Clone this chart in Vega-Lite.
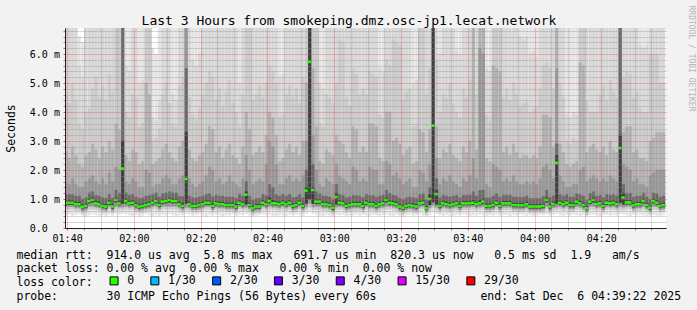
{
"$schema": "https://vega.github.io/schema/vega-lite/v6.json",
"width": 601, "height": 200,
"autosize": {"type": "none"},
"padding": {"left": 65, "top": 28, "right": 31, "bottom": 82},
"background": "#f2f2f2",
"config": {"font": "DejaVu Sans Mono", "view": {"stroke": null, "fill": "#ffffff"}},
"datasets": {"loss": [{"loss": "0"}, {"loss": "1/30"}, {"loss": "2/30"}, {"loss": "3/30"}, {"loss": "4/30"}, {"loss": "15/30"}, {"loss": "29/30"}], "one": [{"k": 1}]},
"data": {"values": [
{"t":"2025-12-06T01:39Z","m":0.87,"a":0.45,"c":0.65,"e":0.74,"g":0.81,"G":0.94,"F":1.15,"E":1.6,"D":2.6,"C":4.6,"B":9,"A":9},
{"t":"2025-12-06T01:40Z","m":0.87,"a":0.48,"c":0.65,"e":0.74,"g":0.81,"G":0.94,"F":1.15,"E":1.5,"D":2.4,"C":4.3,"B":9,"A":9},
{"t":"2025-12-06T01:41Z","m":0.87,"a":0.42,"c":0.65,"e":0.74,"g":0.81,"G":0.94,"F":1.15,"E":1.7,"D":2.8,"C":5.0,"B":9,"A":9},
{"t":"2025-12-06T01:42Z","m":0.82,"a":0.46,"c":0.6,"e":0.69,"g":0.76,"G":0.89,"F":1.1,"E":1.5,"D":2.5,"C":4.4,"B":9,"A":9},
{"t":"2025-12-06T01:43Z","m":0.82,"a":0.5,"c":0.6,"e":0.69,"g":0.76,"G":0.89,"F":1.1,"E":1.4,"D":2.2,"C":3.6,"B":5.6,"A":6.6},
{"t":"2025-12-06T01:44Z","m":0.72,"a":0.44,"c":0.5,"e":0.59,"g":0.66,"G":0.79,"F":1.0,"E":1.4,"D":2.1,"C":3.4,"B":5.2,"A":6.4},
{"t":"2025-12-06T01:45Z","m":0.76,"a":0.4,"c":0.54,"e":0.63,"g":0.7,"G":0.83,"F":1.04,"E":1.6,"D":2.5,"C":4.0,"B":9,"A":9},
{"t":"2025-12-06T01:46Z","m":0.93,"a":0.45,"c":0.65,"e":0.75,"g":0.86,"G":1.0,"F":1.21,"E":1.7,"D":2.6,"C":4.1,"B":9,"A":9},
{"t":"2025-12-06T01:47Z","m":0.97,"a":0.5,"c":0.65,"e":0.75,"g":0.89,"G":1.04,"F":1.25,"E":1.8,"D":2.9,"C":4.8,"B":9,"A":9},
{"t":"2025-12-06T01:48Z","m":0.85,"a":0.46,"c":0.63,"e":0.72,"g":0.79,"G":0.92,"F":1.13,"E":1.6,"D":2.7,"C":5.2,"B":9,"A":9},
{"t":"2025-12-06T01:49Z","m":0.82,"a":0.42,"c":0.6,"e":0.69,"g":0.76,"G":0.89,"F":1.1,"E":1.5,"D":2.4,"C":4.5,"B":9,"A":9},
{"t":"2025-12-06T01:50Z","m":0.76,"a":0.45,"c":0.54,"e":0.63,"g":0.7,"G":0.83,"F":1.04,"E":1.7,"D":2.8,"C":4.9,"B":9,"A":9},
{"t":"2025-12-06T01:51Z","m":0.74,"a":0.4,"c":0.52,"e":0.61,"g":0.68,"G":0.81,"F":1.02,"E":1.5,"D":2.6,"C":4.4,"B":9,"A":9},
{"t":"2025-12-06T01:52Z","m":0.87,"a":0.48,"c":0.65,"e":0.74,"g":0.81,"G":0.94,"F":1.15,"E":1.9,"D":3.0,"C":5.3,"B":9,"A":9},
{"t":"2025-12-06T01:53Z","m":0.74,"a":0.44,"c":0.52,"e":0.61,"g":0.68,"G":0.81,"F":1.02,"E":1.6,"D":2.7,"C":4.7,"B":9,"A":9},
{"t":"2025-12-06T01:54Z","m":0.97,"a":0.5,"c":0.65,"e":0.75,"g":0.89,"G":1.04,"F":1.3,"E":2.1,"D":3.6,"C":9,"B":9,"A":9},
{"t":"2025-12-06T01:55Z","m":0.85,"a":0.47,"c":0.63,"e":0.72,"g":0.79,"G":0.92,"F":1.2,"E":2.0,"D":3.4,"C":9,"B":9,"A":9},
{"t":"2025-12-06T01:56Z","m":2.05,"a":0.5,"c":0.62,"e":0.72,"g":0.85,"G":3.0,"F":9,"E":9,"D":9,"C":9,"B":9,"A":9},
{"t":"2025-12-06T01:57Z","m":0.93,"a":0.48,"c":0.65,"e":0.75,"g":0.86,"G":1.0,"F":1.21,"E":1.6,"D":2.5,"C":4.0,"B":5.6,"A":9},
{"t":"2025-12-06T01:58Z","m":0.85,"a":0.45,"c":0.63,"e":0.72,"g":0.79,"G":0.92,"F":1.13,"E":1.5,"D":2.3,"C":3.8,"B":5.4,"A":9},
{"t":"2025-12-06T01:59Z","m":0.87,"a":0.42,"c":0.65,"e":0.74,"g":0.81,"G":0.94,"F":1.15,"E":1.7,"D":2.7,"C":4.6,"B":9,"A":9},
{"t":"2025-12-06T02:00Z","m":0.79,"a":0.46,"c":0.57,"e":0.66,"g":0.73,"G":0.86,"F":1.07,"E":1.6,"D":2.6,"C":4.5,"B":9,"A":9},
{"t":"2025-12-06T02:01Z","m":0.74,"a":0.4,"c":0.52,"e":0.61,"g":0.68,"G":0.81,"F":1.02,"E":1.4,"D":2.2,"C":3.5,"B":5.0,"A":9},
{"t":"2025-12-06T02:02Z","m":0.76,"a":0.44,"c":0.54,"e":0.63,"g":0.7,"G":0.83,"F":1.04,"E":1.4,"D":2.3,"C":3.6,"B":5.1,"A":9},
{"t":"2025-12-06T02:03Z","m":0.79,"a":0.48,"c":0.57,"e":0.66,"g":0.73,"G":0.86,"F":1.1,"E":2.0,"D":5.0,"C":9,"B":9,"A":9},
{"t":"2025-12-06T02:04Z","m":0.82,"a":0.45,"c":0.6,"e":0.69,"g":0.76,"G":0.89,"F":1.12,"E":1.9,"D":4.6,"C":9,"B":9,"A":9},
{"t":"2025-12-06T02:05Z","m":0.87,"a":0.42,"c":0.65,"e":0.74,"g":0.81,"G":0.94,"F":1.15,"E":1.4,"D":2.2,"C":3.0,"B":3.8,"A":6.2},
{"t":"2025-12-06T02:06Z","m":0.93,"a":0.46,"c":0.65,"e":0.75,"g":0.86,"G":1.0,"F":1.21,"E":1.5,"D":2.3,"C":3.1,"B":3.7,"A":6.0},
{"t":"2025-12-06T02:07Z","m":0.79,"a":0.4,"c":0.57,"e":0.66,"g":0.73,"G":0.86,"F":1.07,"E":1.5,"D":2.4,"C":3.4,"B":4.4,"A":9},
{"t":"2025-12-06T02:08Z","m":0.91,"a":0.47,"c":0.65,"e":0.75,"g":0.84,"G":0.98,"F":1.19,"E":1.7,"D":2.7,"C":4.6,"B":9,"A":9},
{"t":"2025-12-06T02:09Z","m":0.93,"a":0.44,"c":0.65,"e":0.75,"g":0.86,"G":1.0,"F":1.21,"E":1.8,"D":2.9,"C":5.0,"B":9,"A":9},
{"t":"2025-12-06T02:10Z","m":0.97,"a":0.5,"c":0.65,"e":0.75,"g":0.89,"G":1.04,"F":1.25,"E":1.7,"D":2.6,"C":4.3,"B":9,"A":9},
{"t":"2025-12-06T02:11Z","m":0.93,"a":0.45,"c":0.65,"e":0.75,"g":0.86,"G":1.0,"F":1.21,"E":1.5,"D":2.4,"C":3.6,"B":4.6,"A":9},
{"t":"2025-12-06T02:12Z","m":0.93,"a":0.42,"c":0.65,"e":0.75,"g":0.86,"G":1.0,"F":1.21,"E":1.5,"D":2.3,"C":3.5,"B":4.4,"A":9},
{"t":"2025-12-06T02:13Z","m":0.82,"a":0.46,"c":0.6,"e":0.69,"g":0.76,"G":0.89,"F":1.1,"E":1.7,"D":2.8,"C":4.9,"B":9,"A":9},
{"t":"2025-12-06T02:14Z","m":0.76,"a":0.44,"c":0.54,"e":0.63,"g":0.7,"G":0.85,"F":1.08,"E":1.8,"D":3.0,"C":5.2,"B":9,"A":9},
{"t":"2025-12-06T02:15Z","m":1.69,"a":0.5,"c":0.62,"e":0.72,"g":0.85,"G":3.3,"F":5.5,"E":9,"D":9,"C":9,"B":9,"A":9},
{"t":"2025-12-06T02:16Z","m":0.82,"a":0.47,"c":0.6,"e":0.69,"g":0.76,"G":0.89,"F":1.1,"E":1.7,"D":2.7,"C":4.5,"B":9,"A":9},
{"t":"2025-12-06T02:17Z","m":0.76,"a":0.42,"c":0.54,"e":0.63,"g":0.7,"G":0.83,"F":1.04,"E":1.5,"D":2.4,"C":3.9,"B":5.8,"A":9},
{"t":"2025-12-06T02:18Z","m":0.76,"a":0.45,"c":0.54,"e":0.63,"g":0.7,"G":0.83,"F":1.04,"E":1.4,"D":2.3,"C":3.7,"B":5.6,"A":9},
{"t":"2025-12-06T02:19Z","m":0.79,"a":0.48,"c":0.57,"e":0.66,"g":0.73,"G":0.86,"F":1.07,"E":1.5,"D":2.5,"C":4.1,"B":6.0,"A":9},
{"t":"2025-12-06T02:20Z","m":0.82,"a":0.44,"c":0.6,"e":0.69,"g":0.76,"G":0.89,"F":1.1,"E":1.6,"D":2.6,"C":4.6,"B":9,"A":9},
{"t":"2025-12-06T02:21Z","m":0.87,"a":0.4,"c":0.65,"e":0.74,"g":0.81,"G":0.94,"F":1.15,"E":1.8,"D":2.9,"C":5.0,"B":9,"A":9},
{"t":"2025-12-06T02:22Z","m":0.87,"a":0.46,"c":0.65,"e":0.74,"g":0.81,"G":0.94,"F":1.18,"E":2.1,"D":3.5,"C":5.4,"B":9,"A":9},
{"t":"2025-12-06T02:23Z","m":0.76,"a":0.43,"c":0.54,"e":0.63,"g":0.7,"G":0.83,"F":1.08,"E":2.0,"D":3.4,"C":5.2,"B":9,"A":9},
{"t":"2025-12-06T02:24Z","m":0.85,"a":0.48,"c":0.63,"e":0.72,"g":0.79,"G":0.92,"F":1.13,"E":1.6,"D":2.6,"C":4.4,"B":9,"A":9},
{"t":"2025-12-06T02:25Z","m":0.82,"a":0.45,"c":0.6,"e":0.69,"g":0.76,"G":0.89,"F":1.1,"E":1.7,"D":2.8,"C":4.8,"B":9,"A":9},
{"t":"2025-12-06T02:26Z","m":0.82,"a":0.41,"c":0.6,"e":0.69,"g":0.76,"G":0.89,"F":1.1,"E":1.5,"D":2.4,"C":4.2,"B":9,"A":9},
{"t":"2025-12-06T02:27Z","m":0.79,"a":0.46,"c":0.57,"e":0.66,"g":0.73,"G":0.86,"F":1.07,"E":1.6,"D":2.7,"C":4.7,"B":9,"A":9},
{"t":"2025-12-06T02:28Z","m":0.79,"a":0.44,"c":0.57,"e":0.66,"g":0.73,"G":0.86,"F":1.07,"E":1.8,"D":2.9,"C":5.1,"B":9,"A":9},
{"t":"2025-12-06T02:29Z","m":0.79,"a":0.48,"c":0.57,"e":0.66,"g":0.73,"G":0.86,"F":1.07,"E":1.6,"D":2.5,"C":4.3,"B":9,"A":9},
{"t":"2025-12-06T02:30Z","m":0.74,"a":0.42,"c":0.52,"e":0.61,"g":0.68,"G":0.81,"F":1.02,"E":1.5,"D":2.4,"C":4.0,"B":9,"A":9},
{"t":"2025-12-06T02:31Z","m":0.87,"a":0.47,"c":0.65,"e":0.74,"g":0.81,"G":0.94,"F":1.15,"E":1.4,"D":2.2,"C":3.5,"B":5.0,"A":9},
{"t":"2025-12-06T02:32Z","m":0.82,"a":0.45,"c":0.6,"e":0.69,"g":0.76,"G":0.89,"F":1.1,"E":1.7,"D":2.8,"C":4.6,"B":9,"A":9},
{"t":"2025-12-06T02:33Z","m":1.15,"a":0.5,"c":0.62,"e":0.72,"g":0.82,"G":1.25,"F":1.6,"E":2.5,"D":4.0,"C":9,"B":9,"A":9},
{"t":"2025-12-06T02:34Z","m":0.79,"a":0.44,"c":0.57,"e":0.66,"g":0.73,"G":0.86,"F":1.1,"E":2.0,"D":3.4,"C":9,"B":9,"A":9},
{"t":"2025-12-06T02:35Z","m":0.68,"a":0.4,"c":0.46,"e":0.55,"g":0.62,"G":0.75,"F":0.96,"E":1.5,"D":2.5,"C":4.4,"B":9,"A":9},
{"t":"2025-12-06T02:36Z","m":0.74,"a":0.43,"c":0.52,"e":0.61,"g":0.68,"G":0.81,"F":1.02,"E":1.6,"D":2.6,"C":4.6,"B":9,"A":9},
{"t":"2025-12-06T02:37Z","m":0.74,"a":0.46,"c":0.52,"e":0.61,"g":0.68,"G":0.81,"F":1.02,"E":1.7,"D":2.8,"C":4.9,"B":9,"A":9},
{"t":"2025-12-06T02:38Z","m":0.87,"a":0.48,"c":0.65,"e":0.74,"g":0.81,"G":0.94,"F":1.15,"E":1.6,"D":2.6,"C":4.5,"B":9,"A":9},
{"t":"2025-12-06T02:39Z","m":0.82,"a":0.45,"c":0.6,"e":0.69,"g":0.76,"G":0.89,"F":1.12,"E":2.2,"D":3.2,"C":5.0,"B":9,"A":9},
{"t":"2025-12-06T02:40Z","m":0.93,"a":0.47,"c":0.65,"e":0.75,"g":0.86,"G":1.05,"F":1.5,"E":3.0,"D":4.0,"C":5.6,"B":9,"A":9},
{"t":"2025-12-06T02:41Z","m":0.85,"a":0.44,"c":0.63,"e":0.72,"g":0.79,"G":0.95,"F":1.4,"E":2.8,"D":3.8,"C":5.4,"B":9,"A":9},
{"t":"2025-12-06T02:42Z","m":0.85,"a":0.42,"c":0.63,"e":0.72,"g":0.79,"G":0.92,"F":1.15,"E":2.2,"D":3.2,"C":5.0,"B":9,"A":9},
{"t":"2025-12-06T02:43Z","m":0.82,"a":0.46,"c":0.6,"e":0.69,"g":0.76,"G":0.89,"F":1.1,"E":1.5,"D":2.3,"C":3.8,"B":5.2,"A":9},
{"t":"2025-12-06T02:44Z","m":0.87,"a":0.45,"c":0.65,"e":0.74,"g":0.81,"G":0.94,"F":1.15,"E":1.5,"D":2.4,"C":3.9,"B":5.3,"A":9},
{"t":"2025-12-06T02:45Z","m":0.82,"a":0.41,"c":0.6,"e":0.69,"g":0.76,"G":0.89,"F":1.1,"E":1.7,"D":2.7,"C":4.6,"B":9,"A":9},
{"t":"2025-12-06T02:46Z","m":0.87,"a":0.47,"c":0.65,"e":0.74,"g":0.81,"G":0.94,"F":1.15,"E":1.8,"D":2.9,"C":4.9,"B":9,"A":9},
{"t":"2025-12-06T02:47Z","m":0.76,"a":0.44,"c":0.54,"e":0.63,"g":0.7,"G":0.83,"F":1.04,"E":1.6,"D":2.6,"C":4.5,"B":9,"A":9},
{"t":"2025-12-06T02:48Z","m":0.79,"a":0.48,"c":0.57,"e":0.66,"g":0.73,"G":0.86,"F":1.07,"E":1.7,"D":2.8,"C":4.8,"B":9,"A":9},
{"t":"2025-12-06T02:49Z","m":0.87,"a":0.45,"c":0.65,"e":0.74,"g":0.81,"G":0.94,"F":1.15,"E":1.6,"D":2.5,"C":4.3,"B":9,"A":9},
{"t":"2025-12-06T02:50Z","m":0.76,"a":0.42,"c":0.54,"e":0.63,"g":0.7,"G":0.83,"F":1.04,"E":1.8,"D":3.0,"C":5.2,"B":9,"A":9},
{"t":"2025-12-06T02:51Z","m":1.29,"a":0.5,"c":0.63,"e":0.73,"g":0.85,"G":1.4,"F":2.0,"E":3.0,"D":5.0,"C":9,"B":9,"A":9},
{"t":"2025-12-06T02:52Z","m":5.73,"a":0.55,"c":0.7,"e":0.85,"g":1.0,"G":9,"F":9,"E":9,"D":9,"C":9,"B":9,"A":9},
{"t":"2025-12-06T02:53Z","m":1.31,"a":0.5,"c":0.63,"e":0.73,"g":0.85,"G":1.4,"F":2.2,"E":3.2,"D":5.5,"C":9,"B":9,"A":9},
{"t":"2025-12-06T02:54Z","m":0.91,"a":0.46,"c":0.65,"e":0.75,"g":0.84,"G":0.98,"F":1.25,"E":2.0,"D":3.5,"C":9,"B":9,"A":9},
{"t":"2025-12-06T02:55Z","m":0.91,"a":0.44,"c":0.65,"e":0.75,"g":0.84,"G":0.98,"F":1.19,"E":1.5,"D":2.3,"C":3.6,"B":5.0,"A":9},
{"t":"2025-12-06T02:56Z","m":0.82,"a":0.42,"c":0.6,"e":0.69,"g":0.76,"G":0.89,"F":1.1,"E":1.4,"D":2.2,"C":3.5,"B":4.8,"A":9},
{"t":"2025-12-06T02:57Z","m":0.82,"a":0.46,"c":0.6,"e":0.69,"g":0.76,"G":0.89,"F":1.1,"E":1.7,"D":2.7,"C":4.6,"B":9,"A":9},
{"t":"2025-12-06T02:58Z","m":0.79,"a":0.44,"c":0.57,"e":0.66,"g":0.73,"G":0.86,"F":1.07,"E":1.6,"D":2.6,"C":4.5,"B":9,"A":9},
{"t":"2025-12-06T02:59Z","m":0.7,"a":0.4,"c":0.48,"e":0.57,"g":0.64,"G":0.77,"F":0.98,"E":1.5,"D":2.5,"C":4.3,"B":9,"A":9},
{"t":"2025-12-06T03:00Z","m":1.07,"a":0.48,"c":0.62,"e":0.72,"g":0.82,"G":1.2,"F":1.5,"E":2.2,"D":3.2,"C":5.0,"B":9,"A":9},
{"t":"2025-12-06T03:01Z","m":0.87,"a":0.45,"c":0.65,"e":0.74,"g":0.81,"G":0.94,"F":1.15,"E":1.8,"D":3.0,"C":6.5,"B":9,"A":9},
{"t":"2025-12-06T03:02Z","m":0.85,"a":0.47,"c":0.63,"e":0.72,"g":0.79,"G":0.92,"F":1.13,"E":1.7,"D":2.9,"C":6.4,"B":9,"A":9},
{"t":"2025-12-06T03:03Z","m":0.76,"a":0.42,"c":0.54,"e":0.63,"g":0.7,"G":0.83,"F":1.04,"E":1.6,"D":2.6,"C":4.5,"B":9,"A":9},
{"t":"2025-12-06T03:04Z","m":0.79,"a":0.45,"c":0.57,"e":0.66,"g":0.73,"G":0.86,"F":1.07,"E":1.5,"D":2.4,"C":4.2,"B":9,"A":9},
{"t":"2025-12-06T03:05Z","m":0.82,"a":0.44,"c":0.6,"e":0.69,"g":0.76,"G":0.89,"F":1.12,"E":2.1,"D":3.5,"C":5.5,"B":9,"A":9},
{"t":"2025-12-06T03:06Z","m":0.82,"a":0.48,"c":0.6,"e":0.69,"g":0.76,"G":0.89,"F":1.12,"E":2.0,"D":3.4,"C":5.3,"B":9,"A":9},
{"t":"2025-12-06T03:07Z","m":0.82,"a":0.43,"c":0.6,"e":0.69,"g":0.76,"G":0.89,"F":1.1,"E":1.6,"D":2.6,"C":4.6,"B":9,"A":9},
{"t":"2025-12-06T03:08Z","m":0.76,"a":0.46,"c":0.54,"e":0.63,"g":0.7,"G":0.83,"F":1.04,"E":1.7,"D":2.8,"C":4.8,"B":9,"A":9},
{"t":"2025-12-06T03:09Z","m":0.87,"a":0.44,"c":0.65,"e":0.74,"g":0.81,"G":0.94,"F":1.15,"E":1.6,"D":2.6,"C":4.6,"B":9,"A":9},
{"t":"2025-12-06T03:10Z","m":0.82,"a":0.42,"c":0.6,"e":0.69,"g":0.76,"G":0.89,"F":1.12,"E":2.1,"D":3.6,"C":5.4,"B":9,"A":9},
{"t":"2025-12-06T03:11Z","m":0.82,"a":0.47,"c":0.6,"e":0.69,"g":0.76,"G":0.89,"F":1.12,"E":2.0,"D":3.6,"C":5.3,"B":9,"A":9},
{"t":"2025-12-06T03:12Z","m":0.76,"a":0.45,"c":0.54,"e":0.63,"g":0.7,"G":0.83,"F":1.06,"E":2.0,"D":3.5,"C":5.2,"B":9,"A":9},
{"t":"2025-12-06T03:13Z","m":0.82,"a":0.43,"c":0.6,"e":0.69,"g":0.76,"G":0.89,"F":1.1,"E":1.5,"D":2.4,"C":3.9,"B":5.5,"A":9},
{"t":"2025-12-06T03:14Z","m":0.85,"a":0.46,"c":0.63,"e":0.72,"g":0.79,"G":0.92,"F":1.13,"E":1.5,"D":2.3,"C":3.8,"B":5.4,"A":9},
{"t":"2025-12-06T03:15Z","m":0.97,"a":0.48,"c":0.65,"e":0.75,"g":0.89,"G":1.04,"F":1.3,"E":2.3,"D":4.0,"C":5.8,"B":9,"A":9},
{"t":"2025-12-06T03:16Z","m":0.87,"a":0.44,"c":0.65,"e":0.74,"g":0.81,"G":0.94,"F":1.2,"E":2.2,"D":4.0,"C":5.6,"B":9,"A":9},
{"t":"2025-12-06T03:17Z","m":0.85,"a":0.42,"c":0.63,"e":0.72,"g":0.79,"G":0.92,"F":1.13,"E":1.8,"D":3.0,"C":6.5,"B":9,"A":9},
{"t":"2025-12-06T03:18Z","m":0.82,"a":0.46,"c":0.6,"e":0.69,"g":0.76,"G":0.89,"F":1.1,"E":1.9,"D":3.1,"C":6.4,"B":9,"A":9},
{"t":"2025-12-06T03:19Z","m":0.74,"a":0.44,"c":0.52,"e":0.61,"g":0.68,"G":0.81,"F":1.02,"E":1.7,"D":2.9,"C":6.3,"B":9,"A":9},
{"t":"2025-12-06T03:20Z","m":0.7,"a":0.4,"c":0.48,"e":0.57,"g":0.64,"G":0.77,"F":0.98,"E":1.5,"D":2.5,"C":4.4,"B":9,"A":9},
{"t":"2025-12-06T03:21Z","m":0.76,"a":0.45,"c":0.54,"e":0.63,"g":0.7,"G":0.83,"F":1.04,"E":1.6,"D":2.7,"C":4.7,"B":9,"A":9},
{"t":"2025-12-06T03:22Z","m":0.79,"a":0.47,"c":0.57,"e":0.66,"g":0.73,"G":0.86,"F":1.07,"E":1.7,"D":2.8,"C":4.8,"B":9,"A":9},
{"t":"2025-12-06T03:23Z","m":0.76,"a":0.43,"c":0.54,"e":0.63,"g":0.7,"G":0.83,"F":1.04,"E":1.4,"D":2.2,"C":3.5,"B":5.0,"A":9},
{"t":"2025-12-06T03:24Z","m":0.74,"a":0.45,"c":0.52,"e":0.61,"g":0.68,"G":0.81,"F":1.02,"E":1.4,"D":2.3,"C":3.6,"B":5.1,"A":9},
{"t":"2025-12-06T03:25Z","m":0.85,"a":0.48,"c":0.63,"e":0.72,"g":0.79,"G":0.92,"F":1.15,"E":2.0,"D":3.4,"C":9,"B":9,"A":9},
{"t":"2025-12-06T03:26Z","m":0.87,"a":0.44,"c":0.65,"e":0.74,"g":0.81,"G":0.94,"F":1.18,"E":1.9,"D":3.3,"C":9,"B":9,"A":9},
{"t":"2025-12-06T03:27Z","m":0.68,"a":0.4,"c":0.46,"e":0.55,"g":0.62,"G":0.75,"F":0.96,"E":1.6,"D":2.6,"C":4.6,"B":9,"A":9},
{"t":"2025-12-06T03:28Z","m":1.0,"a":0.46,"c":0.6,"e":0.7,"g":0.8,"G":1.15,"F":1.4,"E":2.2,"D":3.4,"C":5.5,"B":9,"A":9},
{"t":"2025-12-06T03:29Z","m":3.53,"a":0.55,"c":0.7,"e":0.8,"g":0.9,"G":9,"F":9,"E":9,"D":9,"C":9,"B":9,"A":9},
{"t":"2025-12-06T03:30Z","m":1.17,"a":0.5,"c":0.62,"e":0.72,"g":0.82,"G":1.3,"F":1.7,"E":2.4,"D":3.5,"C":5.8,"B":9,"A":9},
{"t":"2025-12-06T03:31Z","m":0.76,"a":0.45,"c":0.54,"e":0.63,"g":0.7,"G":0.83,"F":1.04,"E":1.5,"D":2.4,"C":4.0,"B":6.0,"A":9},
{"t":"2025-12-06T03:32Z","m":0.85,"a":0.43,"c":0.63,"e":0.72,"g":0.79,"G":0.92,"F":1.13,"E":1.7,"D":2.7,"C":4.6,"B":9,"A":9},
{"t":"2025-12-06T03:33Z","m":0.82,"a":0.47,"c":0.6,"e":0.69,"g":0.76,"G":0.89,"F":1.1,"E":1.6,"D":2.6,"C":4.5,"B":9,"A":9},
{"t":"2025-12-06T03:34Z","m":0.79,"a":0.44,"c":0.57,"e":0.66,"g":0.73,"G":0.86,"F":1.07,"E":1.8,"D":2.9,"C":5.0,"B":9,"A":9},
{"t":"2025-12-06T03:35Z","m":0.82,"a":0.42,"c":0.6,"e":0.69,"g":0.76,"G":0.89,"F":1.1,"E":1.6,"D":2.5,"C":4.3,"B":9,"A":9},
{"t":"2025-12-06T03:36Z","m":0.85,"a":0.46,"c":0.63,"e":0.72,"g":0.79,"G":0.92,"F":1.13,"E":1.5,"D":2.4,"C":4.0,"B":6.1,"A":9},
{"t":"2025-12-06T03:37Z","m":0.76,"a":0.44,"c":0.54,"e":0.63,"g":0.7,"G":0.83,"F":1.04,"E":1.4,"D":2.3,"C":3.8,"B":6.0,"A":9},
{"t":"2025-12-06T03:38Z","m":0.85,"a":0.48,"c":0.63,"e":0.72,"g":0.79,"G":0.92,"F":1.13,"E":1.7,"D":2.8,"C":4.8,"B":9,"A":9},
{"t":"2025-12-06T03:39Z","m":0.85,"a":0.45,"c":0.63,"e":0.72,"g":0.79,"G":0.92,"F":1.13,"E":1.6,"D":2.6,"C":4.5,"B":9,"A":9},
{"t":"2025-12-06T03:40Z","m":0.85,"a":0.42,"c":0.63,"e":0.72,"g":0.79,"G":0.92,"F":1.13,"E":1.8,"D":3.0,"C":5.1,"B":9,"A":9},
{"t":"2025-12-06T03:41Z","m":0.87,"a":0.46,"c":0.65,"e":0.74,"g":0.81,"G":0.96,"F":1.25,"E":2.4,"D":9,"C":9,"B":9,"A":9},
{"t":"2025-12-06T03:42Z","m":0.82,"a":0.44,"c":0.6,"e":0.69,"g":0.76,"G":0.89,"F":1.1,"E":1.7,"D":2.7,"C":4.6,"B":9,"A":9},
{"t":"2025-12-06T03:43Z","m":0.85,"a":0.47,"c":0.63,"e":0.72,"g":0.79,"G":0.95,"F":1.3,"E":6.2,"D":9,"C":9,"B":9,"A":9},
{"t":"2025-12-06T03:44Z","m":0.91,"a":0.45,"c":0.65,"e":0.75,"g":0.84,"G":1.0,"F":1.3,"E":6.0,"D":9,"C":9,"B":9,"A":9},
{"t":"2025-12-06T03:45Z","m":0.76,"a":0.42,"c":0.54,"e":0.63,"g":0.7,"G":0.83,"F":1.04,"E":1.5,"D":2.4,"C":3.9,"B":5.5,"A":9},
{"t":"2025-12-06T03:46Z","m":0.76,"a":0.46,"c":0.54,"e":0.63,"g":0.7,"G":0.83,"F":1.04,"E":1.4,"D":2.3,"C":3.7,"B":5.4,"A":9},
{"t":"2025-12-06T03:47Z","m":0.79,"a":0.44,"c":0.57,"e":0.66,"g":0.73,"G":0.86,"F":1.1,"E":2.2,"D":5.6,"C":9,"B":9,"A":9},
{"t":"2025-12-06T03:48Z","m":0.87,"a":0.48,"c":0.65,"e":0.74,"g":0.81,"G":0.94,"F":1.18,"E":2.1,"D":5.5,"C":9,"B":9,"A":9},
{"t":"2025-12-06T03:49Z","m":0.76,"a":0.43,"c":0.54,"e":0.63,"g":0.7,"G":0.83,"F":1.06,"E":2.0,"D":5.4,"C":9,"B":9,"A":9},
{"t":"2025-12-06T03:50Z","m":0.85,"a":0.45,"c":0.63,"e":0.72,"g":0.79,"G":0.92,"F":1.13,"E":1.6,"D":2.6,"C":4.5,"B":9,"A":9},
{"t":"2025-12-06T03:51Z","m":0.85,"a":0.47,"c":0.63,"e":0.72,"g":0.79,"G":0.92,"F":1.13,"E":1.7,"D":2.8,"C":4.8,"B":9,"A":9},
{"t":"2025-12-06T03:52Z","m":0.85,"a":0.42,"c":0.63,"e":0.72,"g":0.79,"G":0.92,"F":1.13,"E":1.6,"D":2.5,"C":4.4,"B":9,"A":9},
{"t":"2025-12-06T03:53Z","m":0.79,"a":0.46,"c":0.57,"e":0.66,"g":0.73,"G":0.86,"F":1.07,"E":1.8,"D":2.9,"C":5.0,"B":9,"A":9},
{"t":"2025-12-06T03:54Z","m":0.79,"a":0.44,"c":0.57,"e":0.66,"g":0.73,"G":0.86,"F":1.07,"E":1.6,"D":2.6,"C":4.6,"B":9,"A":9},
{"t":"2025-12-06T03:55Z","m":0.78,"a":0.48,"c":0.56,"e":0.65,"g":0.72,"G":0.85,"F":1.06,"E":1.5,"D":2.4,"C":4.2,"B":6.6,"A":9},
{"t":"2025-12-06T03:56Z","m":0.78,"a":0.45,"c":0.56,"e":0.65,"g":0.72,"G":0.85,"F":1.06,"E":1.5,"D":2.5,"C":4.3,"B":6.5,"A":9},
{"t":"2025-12-06T03:57Z","m":0.82,"a":0.43,"c":0.6,"e":0.69,"g":0.76,"G":0.89,"F":1.1,"E":1.6,"D":2.5,"C":4.4,"B":6.6,"A":9},
{"t":"2025-12-06T03:58Z","m":0.74,"a":0.46,"c":0.52,"e":0.61,"g":0.68,"G":0.81,"F":1.02,"E":1.5,"D":2.4,"C":4.0,"B":6.0,"A":9},
{"t":"2025-12-06T03:59Z","m":0.74,"a":0.42,"c":0.52,"e":0.61,"g":0.68,"G":0.81,"F":1.02,"E":1.6,"D":2.5,"C":4.1,"B":6.1,"A":9},
{"t":"2025-12-06T04:00Z","m":0.74,"a":0.44,"c":0.52,"e":0.61,"g":0.68,"G":0.81,"F":1.02,"E":1.5,"D":2.4,"C":4.2,"B":5.9,"A":9},
{"t":"2025-12-06T04:01Z","m":0.74,"a":0.47,"c":0.52,"e":0.61,"g":0.68,"G":0.81,"F":1.02,"E":1.7,"D":2.8,"C":4.8,"B":9,"A":9},
{"t":"2025-12-06T04:02Z","m":0.76,"a":0.45,"c":0.54,"e":0.63,"g":0.7,"G":0.83,"F":1.08,"E":2.1,"D":3.9,"C":5.6,"B":9,"A":9},
{"t":"2025-12-06T04:03Z","m":0.97,"a":0.48,"c":0.65,"e":0.75,"g":0.89,"G":1.04,"F":1.3,"E":2.2,"D":3.9,"C":5.7,"B":9,"A":9},
{"t":"2025-12-06T04:04Z","m":0.74,"a":0.43,"c":0.52,"e":0.61,"g":0.68,"G":0.81,"F":1.05,"E":2.0,"D":3.8,"C":5.5,"B":9,"A":9},
{"t":"2025-12-06T04:05Z","m":0.83,"a":0.46,"c":0.61,"e":0.7,"g":0.77,"G":0.9,"F":1.11,"E":1.7,"D":2.8,"C":4.8,"B":9,"A":9},
{"t":"2025-12-06T04:06Z","m":2.25,"a":0.5,"c":0.62,"e":0.72,"g":0.85,"G":2.5,"F":2.9,"E":5.5,"D":9,"C":9,"B":9,"A":9},
{"t":"2025-12-06T04:07Z","m":0.87,"a":0.45,"c":0.65,"e":0.74,"g":0.81,"G":0.94,"F":1.15,"E":1.8,"D":2.9,"C":5.0,"B":9,"A":9},
{"t":"2025-12-06T04:08Z","m":0.82,"a":0.42,"c":0.6,"e":0.69,"g":0.76,"G":0.89,"F":1.1,"E":1.6,"D":2.6,"C":4.5,"B":9,"A":9},
{"t":"2025-12-06T04:09Z","m":0.87,"a":0.46,"c":0.65,"e":0.74,"g":0.81,"G":0.94,"F":1.15,"E":1.4,"D":2.2,"C":3.0,"B":3.9,"A":9},
{"t":"2025-12-06T04:10Z","m":0.79,"a":0.44,"c":0.57,"e":0.66,"g":0.73,"G":0.86,"F":1.07,"E":1.4,"D":2.1,"C":2.9,"B":3.8,"A":9},
{"t":"2025-12-06T04:11Z","m":0.79,"a":0.48,"c":0.57,"e":0.66,"g":0.73,"G":0.86,"F":1.07,"E":1.5,"D":2.2,"C":3.1,"B":4.0,"A":9},
{"t":"2025-12-06T04:12Z","m":0.91,"a":0.45,"c":0.65,"e":0.75,"g":0.84,"G":0.98,"F":1.19,"E":1.5,"D":2.3,"C":3.0,"B":3.9,"A":9},
{"t":"2025-12-06T04:13Z","m":0.85,"a":0.43,"c":0.63,"e":0.72,"g":0.79,"G":0.92,"F":1.15,"E":2.0,"D":5.7,"C":9,"B":9,"A":9},
{"t":"2025-12-06T04:14Z","m":0.79,"a":0.46,"c":0.57,"e":0.66,"g":0.73,"G":0.86,"F":1.1,"E":2.1,"D":5.6,"C":9,"B":9,"A":9},
{"t":"2025-12-06T04:15Z","m":0.68,"a":0.4,"c":0.46,"e":0.55,"g":0.62,"G":0.75,"F":0.96,"E":1.6,"D":2.6,"C":4.4,"B":9,"A":9},
{"t":"2025-12-06T04:16Z","m":0.91,"a":0.46,"c":0.65,"e":0.75,"g":0.84,"G":0.98,"F":1.19,"E":1.7,"D":2.8,"C":4.0,"B":9,"A":9},
{"t":"2025-12-06T04:17Z","m":0.97,"a":0.48,"c":0.65,"e":0.75,"g":0.89,"G":1.04,"F":1.25,"E":1.8,"D":2.9,"C":4.0,"B":9,"A":9},
{"t":"2025-12-06T04:18Z","m":0.82,"a":0.44,"c":0.6,"e":0.69,"g":0.76,"G":0.89,"F":1.1,"E":1.7,"D":2.7,"C":4.0,"B":9,"A":9},
{"t":"2025-12-06T04:19Z","m":0.85,"a":0.42,"c":0.63,"e":0.72,"g":0.79,"G":0.92,"F":1.13,"E":1.6,"D":2.6,"C":4.6,"B":9,"A":9},
{"t":"2025-12-06T04:20Z","m":0.76,"a":0.45,"c":0.54,"e":0.63,"g":0.7,"G":0.83,"F":1.04,"E":1.7,"D":2.8,"C":4.9,"B":9,"A":9},
{"t":"2025-12-06T04:21Z","m":0.87,"a":0.47,"c":0.65,"e":0.74,"g":0.81,"G":0.94,"F":1.15,"E":1.6,"D":2.5,"C":4.4,"B":9,"A":9},
{"t":"2025-12-06T04:22Z","m":0.85,"a":0.43,"c":0.63,"e":0.72,"g":0.79,"G":0.92,"F":1.13,"E":1.8,"D":3.0,"C":5.1,"B":9,"A":9},
{"t":"2025-12-06T04:23Z","m":0.87,"a":0.46,"c":0.65,"e":0.74,"g":0.81,"G":0.94,"F":1.15,"E":1.7,"D":2.7,"C":4.7,"B":9,"A":9},
{"t":"2025-12-06T04:24Z","m":0.82,"a":0.44,"c":0.6,"e":0.69,"g":0.76,"G":0.89,"F":1.1,"E":1.6,"D":2.6,"C":4.5,"B":9,"A":9},
{"t":"2025-12-06T04:25Z","m":2.76,"a":0.5,"c":0.63,"e":0.75,"g":0.88,"G":3.2,"F":9,"E":9,"D":9,"C":9,"B":9,"A":9},
{"t":"2025-12-06T04:26Z","m":1.05,"a":0.48,"c":0.62,"e":0.72,"g":0.82,"G":1.2,"F":1.5,"E":2.2,"D":3.3,"C":5.2,"B":9,"A":9},
{"t":"2025-12-06T04:27Z","m":0.88,"a":0.45,"c":0.66,"e":0.75,"g":0.82,"G":0.95,"F":1.2,"E":2.1,"D":3.5,"C":5.4,"B":9,"A":9},
{"t":"2025-12-06T04:28Z","m":0.88,"a":0.42,"c":0.66,"e":0.75,"g":0.82,"G":0.95,"F":1.2,"E":2.0,"D":3.5,"C":5.3,"B":9,"A":9},
{"t":"2025-12-06T04:29Z","m":0.78,"a":0.46,"c":0.56,"e":0.65,"g":0.72,"G":0.85,"F":1.06,"E":1.6,"D":2.6,"C":4.5,"B":9,"A":9},
{"t":"2025-12-06T04:30Z","m":0.82,"a":0.44,"c":0.6,"e":0.69,"g":0.76,"G":0.89,"F":1.1,"E":1.7,"D":2.7,"C":4.7,"B":9,"A":9},
{"t":"2025-12-06T04:31Z","m":0.82,"a":0.47,"c":0.6,"e":0.69,"g":0.76,"G":0.89,"F":1.1,"E":1.5,"D":2.4,"C":4.1,"B":6.3,"A":9},
{"t":"2025-12-06T04:32Z","m":0.93,"a":0.45,"c":0.65,"e":0.75,"g":0.86,"G":1.0,"F":1.21,"E":1.5,"D":2.4,"C":4.0,"B":6.2,"A":9},
{"t":"2025-12-06T04:33Z","m":0.79,"a":0.43,"c":0.57,"e":0.66,"g":0.73,"G":0.86,"F":1.07,"E":1.4,"D":2.3,"C":4.0,"B":6.3,"A":9},
{"t":"2025-12-06T04:34Z","m":0.7,"a":0.4,"c":0.48,"e":0.57,"g":0.64,"G":0.77,"F":0.98,"E":1.8,"D":3.0,"C":6.0,"B":9,"A":9},
{"t":"2025-12-06T04:35Z","m":0.93,"a":0.46,"c":0.65,"e":0.75,"g":0.86,"G":1.0,"F":1.21,"E":1.9,"D":3.1,"C":6.0,"B":9,"A":9},
{"t":"2025-12-06T04:36Z","m":0.87,"a":0.44,"c":0.65,"e":0.74,"g":0.81,"G":0.94,"F":1.18,"E":2.0,"D":3.3,"C":6.0,"B":9,"A":9},
{"t":"2025-12-06T04:37Z","m":0.76,"a":0.42,"c":0.54,"e":0.63,"g":0.7,"G":0.83,"F":1.06,"E":2.0,"D":3.3,"C":5.0,"B":9,"A":9},
{"t":"2025-12-06T04:38Z","m":0.79,"a":0.45,"c":0.57,"e":0.66,"g":0.73,"G":0.86,"F":1.1,"E":2.0,"D":3.3,"C":5.0,"B":9,"A":9}
]},
"encoding": {
 "x": {"field": "t", "timeUnit": "utcyearmonthdatehoursminutes", "type": "temporal",
  "scale": {"type": "utc", "domain": [{"year": 2025, "month": 12, "date": 6, "hours": 1, "minutes": 39, "seconds": 22, "utc": true}, {"year": 2025, "month": 12, "date": 6, "hours": 4, "minutes": 39, "seconds": 22, "utc": true}]},
  "axis": null},
 "y": {"field": "a", "type": "quantitative", "scale": {"domain": [0, 6.9], "nice": false, "zero": false}, "axis": null}
},
"layer": [
{"mark": {"type": "bar", "fill": "#e3e3e3", "stroke": "#e3e3e3", "strokeWidth": 0.6, "clip": true},
 "encoding": {
 "x": {"field": "t", "timeUnit": "utcyearmonthdatehoursminutes", "type": "temporal",
  "scale": {"type": "utc", "domain": [{"year": 2025, "month": 12, "date": 6, "hours": 1, "minutes": 39, "seconds": 22, "utc": true}, {"year": 2025, "month": 12, "date": 6, "hours": 4, "minutes": 39, "seconds": 22, "utc": true}]},
  "axis": {"orient": "bottom",
    "values": [
     {"year":2025,"month":12,"date":6,"hours":1,"minutes":40,"utc":true},{"year":2025,"month":12,"date":6,"hours":1,"minutes":45,"utc":true},{"year":2025,"month":12,"date":6,"hours":1,"minutes":50,"utc":true},{"year":2025,"month":12,"date":6,"hours":1,"minutes":55,"utc":true},
     {"year":2025,"month":12,"date":6,"hours":2,"minutes":0,"utc":true},{"year":2025,"month":12,"date":6,"hours":2,"minutes":5,"utc":true},{"year":2025,"month":12,"date":6,"hours":2,"minutes":10,"utc":true},{"year":2025,"month":12,"date":6,"hours":2,"minutes":15,"utc":true},
     {"year":2025,"month":12,"date":6,"hours":2,"minutes":20,"utc":true},{"year":2025,"month":12,"date":6,"hours":2,"minutes":25,"utc":true},{"year":2025,"month":12,"date":6,"hours":2,"minutes":30,"utc":true},{"year":2025,"month":12,"date":6,"hours":2,"minutes":35,"utc":true},
     {"year":2025,"month":12,"date":6,"hours":2,"minutes":40,"utc":true},{"year":2025,"month":12,"date":6,"hours":2,"minutes":45,"utc":true},{"year":2025,"month":12,"date":6,"hours":2,"minutes":50,"utc":true},{"year":2025,"month":12,"date":6,"hours":2,"minutes":55,"utc":true},
     {"year":2025,"month":12,"date":6,"hours":3,"minutes":0,"utc":true},{"year":2025,"month":12,"date":6,"hours":3,"minutes":5,"utc":true},{"year":2025,"month":12,"date":6,"hours":3,"minutes":10,"utc":true},{"year":2025,"month":12,"date":6,"hours":3,"minutes":15,"utc":true},
     {"year":2025,"month":12,"date":6,"hours":3,"minutes":20,"utc":true},{"year":2025,"month":12,"date":6,"hours":3,"minutes":25,"utc":true},{"year":2025,"month":12,"date":6,"hours":3,"minutes":30,"utc":true},{"year":2025,"month":12,"date":6,"hours":3,"minutes":35,"utc":true},
     {"year":2025,"month":12,"date":6,"hours":3,"minutes":40,"utc":true},{"year":2025,"month":12,"date":6,"hours":3,"minutes":45,"utc":true},{"year":2025,"month":12,"date":6,"hours":3,"minutes":50,"utc":true},{"year":2025,"month":12,"date":6,"hours":3,"minutes":55,"utc":true},
     {"year":2025,"month":12,"date":6,"hours":4,"minutes":0,"utc":true},{"year":2025,"month":12,"date":6,"hours":4,"minutes":5,"utc":true},{"year":2025,"month":12,"date":6,"hours":4,"minutes":10,"utc":true},{"year":2025,"month":12,"date":6,"hours":4,"minutes":15,"utc":true},
     {"year":2025,"month":12,"date":6,"hours":4,"minutes":20,"utc":true},{"year":2025,"month":12,"date":6,"hours":4,"minutes":25,"utc":true},{"year":2025,"month":12,"date":6,"hours":4,"minutes":30,"utc":true},{"year":2025,"month":12,"date":6,"hours":4,"minutes":35,"utc":true}],
    "labelExpr": "utcminutes(datum.value) % 20 == 0 ? utcFormat(datum.value, '%H:%M') : ''",
    "labelFont": "DejaVu Sans Mono", "labelFontSize": 10, "labelColor": "#000000", "labelBaseline": "alphabetic", "labelPadding": 11,
    "labelOverlap": false, "labelFlush": false, "labelBound": false,
    "tickSize": 2,
    "tickColor": {"condition": {"test": "utcminutes(datum.value) % 20 == 0", "value": "#de4f4f"}, "value": "#8f8f8f"},
    "grid": true,
    "gridColor": {"condition": {"test": "utcminutes(datum.value) % 20 == 0", "value": "#de4f4f"}, "value": "#8f8f8f"},
    "gridOpacity": 0.7, "gridDash": [1, 1],
    "domainColor": "#1f1f1f", "zindex": 1,
    "title": ["median\u00a0rtt:\u00a0\u00a0914.0\u00a0us\u00a0avg\u00a0\u00a05.8\u00a0ms\u00a0max\u00a0\u00a0\u00a0691.7\u00a0us\u00a0min\u00a0\u00a0820.3\u00a0us\u00a0now\u00a0\u00a0\u00a00.5\u00a0ms\u00a0sd\u00a0\u00a01.9\u00a0\u00a0\u00a0am/s",
              "packet\u00a0loss:\u00a00.00\u00a0%\u00a0avg\u00a0\u00a00.00\u00a0%\u00a0max\u00a0\u00a0\u00a00.00\u00a0%\u00a0min\u00a0\u00a00.00\u00a0%\u00a0now",
              "loss\u00a0color:",
              "probe:\u00a0\u00a0\u00a0\u00a0\u00a0\u00a0\u00a030\u00a0ICMP\u00a0Echo\u00a0Pings\u00a0(56\u00a0Bytes)\u00a0every\u00a060s\u00a0\u00a0\u00a0\u00a0\u00a0\u00a0\u00a0\u00a0\u00a0\u00a0\u00a0\u00a0\u00a0\u00a0\u00a0end:\u00a0Sat\u00a0Dec\u00a0\u00a06\u00a004:39:22\u00a02025"],
    "titleFont": "DejaVu Sans Mono", "titleFontSize": 11.5, "titleFontWeight": "normal", "titleColor": "#000000",
    "titleAlign": "left", "titleAnchor": "start", "titleBaseline": "alphabetic", "titleX": -49, "titleY": 30.3, "titleLineHeight": 13.6}},
 "y": {"field": "a", "type": "quantitative", "scale": {"domain": [0, 6.9], "nice": false, "zero": false},
   "axis": {"orient": "left", "values": [0,0.2,0.4,0.6,0.8,1,1.2,1.4,1.6,1.8,2,2.2,2.4,2.6,2.8,3,3.2,3.4,3.6,3.8,4,4.2,4.4,4.6,4.8,5,5.2,5.4,5.6,5.8,6,6.2,6.4,6.6,6.8],
    "labelExpr": "abs(datum.value - round(datum.value)) < 0.01 ? (datum.value < 0.01 ? '0.0' : format(datum.value, '.1f') + ' m') : ''",
    "labelAlign": "left", "labelBaseline": "middle", "labelPadding": 33.7,
    "labelFont": "DejaVu Sans Mono", "labelFontSize": 10, "labelColor": "#000000",
    "labelOverlap": false, "labelFlush": false, "labelBound": false,
    "tickSize": 2,
    "tickColor": {"condition": {"test": "abs(datum.value - round(datum.value)) < 0.01", "value": "#de4f4f"}, "value": "#8f8f8f"},
    "grid": true,
    "gridColor": {"condition": {"test": "abs(datum.value - round(datum.value)) < 0.01", "value": "#de4f4f"}, "value": "#8f8f8f"},
    "gridOpacity": 0.7,
    "gridDash": [1, 1],
    "domainColor": "#1f1f1f", "zindex": 1,
    "title": "Seconds", "titleFont": "DejaVu Sans Mono", "titleFontSize": 11.5, "titleFontWeight": "normal", "titleColor": "#000000",
    "titleAngle": 270, "titleAlign": "center", "titleBaseline": "alphabetic", "titleX": -50.5, "titleY": 100}},
 "y2": {"field": "A"}}},
{"mark": {"type": "bar", "fill": "#d6d6d6", "stroke": "#d6d6d6", "strokeWidth": 0.6, "clip": true},
 "encoding": {"y": {"field": "c", "type": "quantitative", "axis": null}, "y2": {"field": "B"}}},
{"mark": {"type": "bar", "fill": "#cacaca", "stroke": "#cacaca", "strokeWidth": 0.6, "clip": true},
 "encoding": {"y": {"field": "c", "type": "quantitative", "axis": null}, "y2": {"field": "C"}}},
{"mark": {"type": "bar", "fill": "#b0b0b0", "stroke": "#b0b0b0", "strokeWidth": 0.6, "clip": true},
 "encoding": {"y": {"field": "e", "type": "quantitative", "axis": null}, "y2": {"field": "D"}}},
{"mark": {"type": "bar", "fill": "#979797", "stroke": "#979797", "strokeWidth": 0.6, "clip": true},
 "encoding": {"y": {"field": "e", "type": "quantitative", "axis": null}, "y2": {"field": "E"}}},
{"mark": {"type": "bar", "fill": "#6a6a6a", "stroke": "#6a6a6a", "strokeWidth": 0.6, "clip": true},
 "encoding": {"y": {"field": "g", "type": "quantitative", "axis": null}, "y2": {"field": "F"}}},
{"mark": {"type": "bar", "fill": "#3e3e3e", "stroke": "#3e3e3e", "strokeWidth": 0.6, "clip": true},
 "encoding": {"y": {"field": "g", "type": "quantitative", "axis": null}, "y2": {"field": "G"}}},
{"mark": {"type": "tick", "orient": "horizontal", "thickness": 2.6, "size": 3.4, "opacity": 1, "color": "#26ff00", "clip": true},
 "encoding": {
  "x": {"field": "t", "timeUnit": "utcyearmonthdatehoursminutes", "type": "temporal", "bandPosition": 0.5,
   "scale": {"type": "utc", "domain": [{"year": 2025, "month": 12, "date": 6, "hours": 1, "minutes": 39, "seconds": 22, "utc": true}, {"year": 2025, "month": 12, "date": 6, "hours": 4, "minutes": 39, "seconds": 22, "utc": true}]},
   "axis": {"orient": "top", "labels": false, "ticks": false, "domain": false, "grid": false,
    "title": "Last 3 Hours from smokeping.dmz.osc-jp1.lecat.network",
    "titleFont": "DejaVu Sans Mono", "titleFontSize": 13, "titleFontWeight": "normal", "titleColor": "#000000",
    "titleAlign": "center", "titleBaseline": "alphabetic", "titleX": 283.5, "titleY": -4}},
  "y": {"field": "m", "type": "quantitative",
   "axis": {"orient": "right", "labels": false, "ticks": false, "domain": false, "grid": false,
    "title": "RRDTOOL / TOBI OETIKER", "titleFont": "DejaVu Sans Mono", "titleFontSize": 8, "titleFontWeight": "normal", "titleColor": "#b4b4b4",
    "titleAngle": 90, "titleAlign": "left", "titleBaseline": "alphabetic", "titleX": 22.3, "titleY": -23}}}},
{"data": {"name": "one"},
 "mark": {"type": "rule", "color": "#1f1f1f", "strokeWidth": 1, "clip": false},
 "encoding": {
  "x": {"datum": {"year": 2025, "month": 12, "date": 6, "hours": 1, "minutes": 39, "seconds": 22, "utc": true}, "type": "temporal", "axis": null},
  "y": {"datum": 6.9, "type": "quantitative", "axis": null},
  "y2": {"datum": 7.0}}},
{"data": {"name": "one"},
 "mark": {"type": "point", "shape": "triangle-up", "filled": true, "size": 40, "color": "#801f1f", "opacity": 1, "clip": false},
 "encoding": {
  "x": {"datum": {"year": 2025, "month": 12, "date": 6, "hours": 1, "minutes": 39, "seconds": 22, "utc": true}, "type": "temporal", "axis": null},
  "y": {"datum": 7.06, "type": "quantitative", "axis": null}}},
{"data": {"name": "one"},
 "mark": {"type": "rule", "color": "#1f1f1f", "strokeWidth": 1, "clip": false},
 "encoding": {
  "x": {"datum": {"year": 2025, "month": 12, "date": 6, "hours": 4, "minutes": 39, "seconds": 22, "utc": true}, "type": "temporal", "axis": null},
  "x2": {"datum": {"year": 2025, "month": 12, "date": 6, "hours": 4, "minutes": 40, "seconds": 30, "utc": true}},
  "y": {"datum": 0, "type": "quantitative", "axis": null}}},
{"data": {"name": "one"},
 "mark": {"type": "point", "shape": "triangle-right", "filled": true, "size": 40, "color": "#801f1f", "opacity": 1, "clip": false},
 "encoding": {
  "x": {"datum": {"year": 2025, "month": 12, "date": 6, "hours": 4, "minutes": 40, "seconds": 55, "utc": true}, "type": "temporal", "axis": null},
  "y": {"datum": 0, "type": "quantitative", "axis": null}}},
{"data": {"name": "loss"},
 "mark": {"type": "square", "size": 0, "opacity": 1},
 "encoding": {
  "color": {"field": "loss", "type": "nominal",
   "scale": {"domain": ["0", "1/30", "2/30", "3/30", "4/30", "15/30", "29/30"], "range": ["#26ff00", "#00b8ff", "#0059ff", "#5e00ff", "#7e00ff", "#dd00ff", "#ff0000"]},
   "legend": {"orient": "none", "legendX": 43.3, "legendY": 247, "direction": "horizontal", "columns": 7, "title": null,
    "symbolType": "square", "symbolSize": 64, "symbolStrokeColor": "#000000", "symbolStrokeWidth": 1, "symbolOpacity": 1,
    "labelFont": "DejaVu Sans Mono", "labelFontSize": 11.5, "labelColor": "#000000", "labelOffset": 7.5,
    "columnPadding": 13.8, "padding": 0}}}}
],
"resolve": {"axis": {"x": "independent", "y": "independent"}}
}
